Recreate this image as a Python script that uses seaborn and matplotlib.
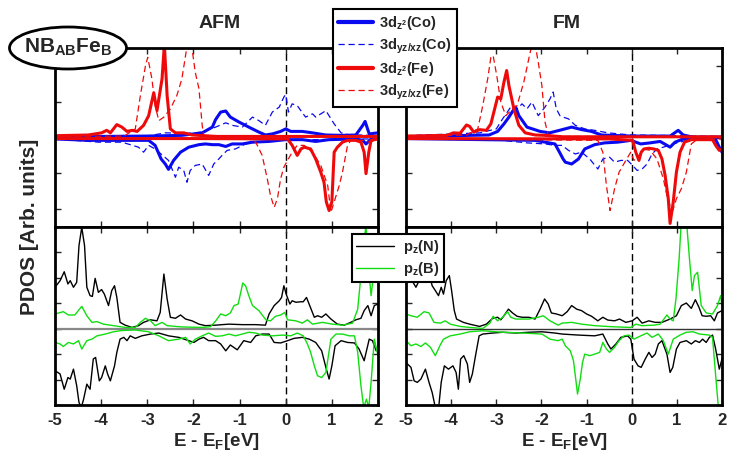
import matplotlib
matplotlib.use("Agg")
import matplotlib.pyplot as plt
import seaborn as sns
from matplotlib.lines import Line2D
from matplotlib.patches import Ellipse

# ---------------- data (E - E_F in eV, PDOS in arb. units) ----------------
# ---- AFM, 3d orbitals ----
afm_co_z2_up_e = [-5, -4, -3, -2.25, -1.81, -1.59, -1.52, -1.41, -1.3, -1.2, -1.01, -0.8, -0.58, -0.44, -0.29, -0.11, 0.0, 0.11, 0.36, 0.58, 0.87, 1.23, 1.52, 1.67, 1.72, 1.81, 2.0]
afm_co_z2_up_v = [0.02, 0.03, 0.04, 0.06, 0.13, 0.29, 0.5, 0.71, 0.74, 0.57, 0.43, 0.29, 0.15, 0.07, 0.1, 0.17, 0.24, 0.17, 0.17, 0.13, 0.07, 0.06, 0.07, 0.34, 0.45, 0.1, 0.13]
afm_co_z2_dn_e = [-5, -4.28, -2.97, -2.83, -2.7, -2.61, -2.54, -2.43, -2.28, -2.1, -1.88, -1.74, -1.59, -1.45, -1.3, -1.16, -0.94, -0.72, -0.36, 0, 0.36, 0.65, 0.94, 1.52, 1.67, 1.74, 1.85, 2.0]
afm_co_z2_dn_v = [-0.04, -0.08, -0.08, -0.22, -0.6, -0.74, -0.89, -0.64, -0.41, -0.27, -0.2, -0.18, -0.2, -0.2, -0.25, -0.18, -0.18, -0.13, -0.11, -0.06, -0.06, -0.11, -0.06, -0.04, -0.08, -0.18, -0.04, -0.04]
afm_co_yz_up_e = [-5, -3, -2.61, -2.1, -1.81, -1.52, -1.3, -1.16, -0.94, -0.72, -0.58, -0.44, -0.29, -0.14, -0.04, 0.0, 0.06, 0.14, 0.25, 0.43, 0.58, 0.65, 0.87, 1.05, 1.2, 1.38, 1.59, 1.81, 2.0]
afm_co_yz_up_v = [0.03, 0.04, 0.13, 0.12, 0.15, 0.29, 0.41, 0.34, 0.29, 0.57, 0.47, 0.34, 0.71, 0.85, 1.13, 1.2, 0.71, 0.94, 0.89, 0.57, 0.66, 0.57, 0.75, 0.38, 0.13, 0.07, 0.07, 0.06, 0.04]
afm_co_yz_dn_e = [-5, -4.57, -4.06, -3.55, -3.19, -3.08, -2.97, -2.83, -2.54, -2.39, -2.32, -2.21, -2.14, -2.07, -1.96, -1.81, -1.67, -1.56, -1.45, -1.38, -1.27, -1.09, -0.87, -0.65, -0.36, 0, 0.65, 1.38, 2.0]
afm_co_yz_dn_v = [-0.04, -0.08, -0.13, -0.13, -0.27, -0.41, -0.22, -0.32, -0.64, -1.11, -0.83, -0.92, -1.25, -0.92, -0.78, -0.74, -1.06, -0.74, -0.6, -0.5, -0.36, -0.32, -0.18, -0.13, -0.11, -0.07, -0.06, -0.04, -0.04]
afm_fe_z2_up_e = [-5, -4.28, -3.99, -3.88, -3.8, -3.66, -3.55, -3.44, -3.33, -3.22, -3.08, -2.97, -2.86, -2.79, -2.68, -2.63, -2.57, -2.5, -2.39, -2.21, -2.03, -1.5, 2.0]
afm_fe_z2_up_v = [0.05, 0.07, 0.13, 0.2, 0.13, 0.36, 0.29, 0.17, 0.2, 0.17, 0.34, 0.61, 1.25, 0.75, 1.64, 2.6, 1.17, 0.24, 0.13, 0.13, 0.07, 0.03, 0.03]
afm_fe_z2_dn_e = [-5, -2, 0.04, 0.14, 0.25, 0.33, 0.4, 0.54, 0.65, 0.76, 0.83, 0.88, 0.94, 1.0, 1.05, 1.12, 1.23, 1.34, 1.52, 1.63, 1.7, 1.74, 1.8, 1.85, 2.0]
afm_fe_z2_dn_v = [-0.03, -0.03, -0.04, -0.22, -0.5, -0.32, -0.27, -0.32, -0.6, -0.97, -1.25, -1.8, -2.04, -1.8, -0.41, -0.27, -0.13, -0.08, -0.08, -0.13, -0.41, -1.01, -0.41, -0.08, -0.04]
afm_fe_yz_up_e = [-5, -3.5, -3.26, -3.15, -3.04, -2.99, -2.9, -2.83, -2.75, -2.64, -2.5, -2.36, -2.25, -2.16, -2.1, -2.03, -1.96, -1.88, -1.81, -1.78, -1.5, 2.0]
afm_fe_yz_up_v = [0.03, 0.04, 0.24, 1.17, 2.0, 2.24, 1.64, 0.89, 0.47, 0.57, 0.8, 1.17, 1.64, 2.38, 2.7, 2.48, 1.82, 1.36, 0.34, 0.06, 0.03, 0.02]
afm_fe_yz_dn_e = [-5, -0.8, -0.65, -0.51, -0.4, -0.33, -0.25, -0.18, -0.11, -0.04, 0.04, 0.14, 0.25, 0.4, 0.58, 0.76, 0.91, 0.98, 1.05, 1.16, 1.23, 1.34, 1.41, 1.67, 1.81, 2.0]
afm_fe_yz_dn_v = [-0.03, -0.04, -0.13, -0.5, -1.15, -1.62, -1.95, -1.71, -1.15, -0.83, -0.64, -0.41, -0.22, -0.22, -0.41, -0.78, -1.34, -2.09, -1.8, -1.34, -0.97, -0.22, -0.08, -0.08, -0.13, -0.06]

# ---- FM, 3d orbitals ----
fm_co_z2_up_e = [-5, -3.59, -3.16, -2.97, -2.83, -2.72, -2.63, -2.57, -2.5, -2.32, -2.03, -1.82, -1.6, -1.33, -1.11, -0.89, -0.67, -0.46, 0, 0.85, 1.03, 1.14, 1.36, 2.0]
fm_co_z2_up_v = [0.02, 0.06, 0.07, 0.17, 0.38, 0.57, 0.75, 0.85, 0.61, 0.29, 0.17, 0.13, 0.2, 0.29, 0.22, 0.17, 0.07, 0.06, 0.04, 0.04, 0.2, 0.07, 0.01, 0.01]
fm_co_z2_dn_e = [-5, -2.14, -1.7, -1.6, -1.52, -1.47, -1.33, -1.18, -1.04, -0.82, -0.6, -0.31, -0.02, 0.2, 0.41, 0.63, 0.85, 0.96, 1.14, 1.86, 1.94, 2.0]
fm_co_z2_dn_v = [-0.03, -0.08, -0.18, -0.41, -0.6, -0.69, -0.74, -0.6, -0.32, -0.2, -0.15, -0.13, -0.08, -0.18, -0.15, -0.11, -0.27, -0.13, -0.04, -0.06, -0.27, -0.41]
fm_co_yz_up_e = [-5, -3.95, -3.37, -3.0, -2.86, -2.68, -2.57, -2.43, -2.32, -2.21, -2.07, -1.92, -1.81, -1.74, -1.67, -1.59, -1.52, -1.4, -1.25, -1.04, -0.82, -0.53, -0.02, 0.6, 1.36, 2.0]
fm_co_yz_up_v = [0.05, 0.1, 0.13, 0.24, 0.52, 0.85, 0.75, 0.94, 0.8, 0.99, 0.61, 0.85, 1.08, 1.27, 0.8, 0.61, 0.57, 0.52, 0.34, 0.24, 0.2, 0.13, 0.07, 0.06, 0.04, 0.03]
fm_co_yz_dn_e = [-5, -3.59, -2.86, -2.32, -1.92, -1.7, -1.54, -1.4, -1.25, -1.11, -0.93, -0.75, -0.64, -0.49, -0.38, -0.24, -0.09, 0.02, 0.12, 0.23, 0.34, 0.45, 0.56, 0.7, 0.92, 1.21, 2.0]
fm_co_yz_dn_v = [-0.04, -0.06, -0.08, -0.15, -0.18, -0.22, -0.22, -0.36, -0.46, -0.41, -0.6, -0.88, -0.6, -0.55, -0.69, -0.64, -0.64, -0.78, -0.92, -0.88, -0.74, -0.46, -0.32, -0.27, -0.18, -0.08, -0.06]
fm_fe_z2_up_e = [-5, -4.09, -3.95, -3.8, -3.66, -3.59, -3.5, -3.37, -3.22, -3.12, -2.97, -2.9, -2.83, -2.77, -2.72, -2.61, -2.5, -2.36, -2.14, -1.92, -1.52, 2.0]
fm_fe_z2_up_v = [0.04, 0.06, 0.13, 0.12, 0.35, 0.31, 0.15, 0.22, 0.2, 0.38, 1.13, 1.08, 1.55, 1.87, 1.45, 0.8, 0.34, 0.13, 0.07, 0.06, 0.02, 0.02]
fm_fe_z2_dn_e = [-5, -0.5, 0.02, 0.09, 0.16, 0.21, 0.27, 0.38, 0.49, 0.59, 0.67, 0.74, 0.81, 0.85, 0.92, 0.99, 1.07, 1.17, 1.32, 1.79, 1.86, 1.94, 2.0]
fm_fe_z2_dn_v = [-0.03, -0.04, -0.08, -0.41, -0.64, -0.41, -0.32, -0.3, -0.32, -0.36, -0.6, -1.06, -1.71, -2.4, -1.8, -0.97, -0.41, -0.13, -0.06, -0.06, -0.22, -0.36, -0.32]
fm_fe_yz_up_e = [-5, -3.66, -3.41, -3.3, -3.19, -3.12, -3.07, -2.99, -2.9, -2.79, -2.68, -2.54, -2.39, -2.28, -2.21, -2.14, -2.07, -1.99, -1.92, -1.85, -1.5, 2.0]
fm_fe_yz_up_v = [0.03, 0.07, 0.24, 0.89, 1.64, 2.24, 2.29, 1.73, 0.99, 0.61, 0.75, 0.89, 1.55, 2.2, 2.6, 2.6, 2.1, 1.45, 0.43, 0.07, 0.03, 0.02]
fm_fe_yz_dn_e = [-5, -0.75, -0.64, -0.56, -0.48, -0.38, -0.28, -0.13, -0.02, 0.05, 0.16, 0.27, 0.41, 0.56, 0.7, 0.81, 0.91, 0.99, 1.1, 1.21, 1.32, 1.43, 2.0]
fm_fe_yz_dn_v = [-0.03, -0.08, -0.41, -1.34, -2.04, -1.43, -0.97, -0.64, -0.41, -0.64, -0.5, -0.32, -0.36, -0.6, -1.15, -1.8, -2.04, -1.71, -1.43, -0.97, -0.18, -0.07, -0.04]

# ---- AFM, p_z orbitals ----
afm_n_up_e = [-5, -4.89, -4.8, -4.72, -4.67, -4.6, -4.53, -4.48, -4.42, -4.36, -4.31, -4.24, -4.19, -4.13, -4.06, -3.99, -3.93, -3.84, -3.77, -3.71, -3.66, -3.59, -3.48, -3.33, -3.19, -3.08, -2.93, -2.79, -2.72, -2.64, -2.57, -2.5, -2.39, -2.28, -2.17, -2.03, -1.88, -1.74, -1.52, -1.23, -0.94, -0.65, -0.44, -0.36, -0.25, -0.14, -0.09, -0.04, 0.01, 0.09, 0.14, 0.22, 0.33, 0.38, 0.45, 0.52, 0.62, 0.69, 0.78, 0.87, 0.98, 1.12, 1.27, 1.41, 1.52, 1.63, 1.7, 1.78, 1.85, 1.92, 2.0]
afm_n_up_v = [1.63, 1.89, 2.24, 1.76, 1.89, 1.63, 1.82, 3.27, 3.99, 3.27, 1.63, 1.3, 1.27, 1.98, 1.43, 1.54, 1.36, 0.91, 1.5, 1.69, 1.23, 0.25, 0.14, 0.05, 0.12, 0.25, 0.35, 0.31, 0.64, 2.15, 1.17, 0.45, 0.41, 0.54, 0.38, 0.31, 0.18, 0.12, 0.14, 0.18, 0.16, 0.16, 0.14, 0.58, 0.91, 1.1, 1.23, 1.69, 1.36, 0.97, 1.1, 1.04, 1.06, 1.06, 1.23, 0.91, 0.45, 0.51, 0.45, 0.58, 0.38, 0.18, 0.14, 0.25, 0.35, 0.41, 0.71, 0.91, 0.51, 0.91, 0.97]
afm_n_dn_e = [-5, -4.89, -4.8, -4.72, -4.67, -4.6, -4.53, -4.48, -4.43, -4.38, -4.31, -4.24, -4.17, -4.12, -4.04, -3.99, -3.91, -3.86, -3.8, -3.71, -3.66, -3.59, -3.51, -3.44, -3.37, -3.26, -3.12, -2.93, -2.75, -2.54, -2.32, -2.1, -1.99, -1.88, -1.78, -1.67, -1.52, -1.41, -1.3, -1.2, -1.05, -0.91, -0.76, -0.65, -0.51, -0.36, -0.25, -0.11, 0.04, 0.18, 0.36, 0.51, 0.65, 0.78, 0.87, 0.94, 1.0, 1.07, 1.2, 1.34, 1.49, 1.59, 1.7, 1.81, 1.88, 1.96, 2.0]
afm_n_dn_v = [-1.65, -1.78, -2.38, -1.92, -1.98, -1.59, -2.24, -2.9, -3.1, -2.77, -2.18, -2.38, -1.19, -1.13, -2.05, -1.92, -1.46, -1.78, -2.05, -1.46, -0.93, -0.41, -0.34, -0.47, -0.28, -0.38, -0.28, -0.21, -0.17, -0.28, -0.34, -0.47, -0.54, -0.41, -0.34, -0.47, -0.47, -0.6, -0.87, -0.64, -0.83, -0.47, -0.54, -0.28, -0.21, -0.21, -0.54, -0.56, -0.47, -0.38, -0.34, -0.41, -0.54, -0.87, -1.52, -1.98, -1.46, -0.67, -0.47, -0.54, -0.56, -0.8, -1.26, -0.41, -0.47, -0.87, -0.67]
afm_b_up_e = [-5, -4.82, -4.71, -4.57, -4.42, -4.31, -4.2, -4.09, -3.95, -3.73, -3.48, -3.26, -3.15, -3.04, -2.93, -2.83, -2.68, -2.57, -2.25, -1.81, -1.63, -1.52, -1.41, -1.3, -1.2, -1.12, -1.03, -0.93, -0.87, -0.8, -0.72, -0.58, -0.43, -0.33, -0.22, -0.11, -0.02, 0.04, 0.22, 0.36, 0.47, 0.58, 0.8, 1.01, 1.23, 1.45, 1.56, 1.63, 1.68, 1.74, 1.81, 1.85, 1.92, 1.97, 2.0]
afm_b_up_v = [0.58, 0.67, 0.54, 0.54, 0.88, 0.51, 0.25, 0.28, 0.18, 0.12, 0.05, 0.05, 0.25, 0.41, 0.31, 0.12, 0.25, 0.12, 0.07, 0.05, 0.08, 0.3, 0.58, 0.51, 0.62, 0.91, 0.97, 1.8, 1.69, 1.3, 0.91, 0.71, 0.35, 0.31, 0.49, 0.54, 0.64, 0.35, 0.31, 0.22, 0.35, 0.18, 0.25, 0.18, 0.14, 0.22, 0.77, 2.09, 3.27, 4.05, 2.09, 1.3, 2.35, 2.87, 2.9]
afm_b_dn_e = [-5, -4.89, -4.82, -4.71, -4.6, -4.49, -4.42, -4.31, -4.2, -4.09, -3.91, -3.73, -3.55, -3.26, -2.97, -2.75, -2.54, -2.32, -2.17, -2.07, -1.96, -1.81, -1.67, -1.52, -1.38, -1.23, -1.09, -0.94, -0.8, -0.65, -0.51, -0.29, -0.07, 0.11, 0.25, 0.38, 0.47, 0.54, 0.62, 0.69, 0.78, 0.87, 0.98, 1.09, 1.23, 1.38, 1.49, 1.56, 1.63, 1.69, 1.75, 1.8, 1.85, 1.92, 2.0]
afm_b_dn_v = [-0.54, -0.6, -0.7, -0.54, -0.6, -0.47, -0.8, -0.47, -0.41, -0.28, -0.21, -0.12, -0.07, -0.05, -0.12, -0.28, -0.47, -0.41, -0.34, -0.6, -0.41, -0.28, -0.17, -0.3, -0.28, -0.21, -0.28, -0.21, -0.14, -0.17, -0.25, -0.28, -0.25, -0.28, -0.17, -0.28, -0.6, -0.93, -1.46, -1.85, -1.92, -1.72, -0.41, -0.21, -0.21, -0.28, -0.28, -0.93, -2.24, -3.1, -2.77, -3.1, -2.11, -0.41, -1.06]

# ---- FM, p_z orbitals ----
fm_n_up_e = [-5, -4.89, -4.78, -4.71, -4.6, -4.49, -4.42, -4.35, -4.28, -4.22, -4.17, -4.11, -4.04, -3.99, -3.93, -3.88, -3.73, -3.59, -3.37, -3.22, -3.08, -2.97, -2.9, -2.83, -2.73, -2.64, -2.54, -2.43, -2.28, -2.14, -2.03, -1.93, -1.85, -1.78, -1.67, -1.54, -1.43, -1.33, -1.22, -1.11, -1.0, -0.89, -0.75, -0.64, -0.53, -0.38, -0.27, -0.13, 0.01, 0.12, 0.23, 0.38, 0.52, 0.67, 0.85, 0.99, 1.1, 1.21, 1.32, 1.41, 1.49, 1.56, 1.65, 1.75, 1.83, 1.9, 2.0]
fm_n_up_v = [2.02, 1.96, 1.63, 1.89, 2.09, 2.15, 1.69, 1.5, 1.3, 1.63, 1.36, 1.89, 2.09, 1.5, 0.71, 0.38, 0.25, 0.18, 0.09, 0.18, 0.41, 0.45, 0.35, 0.51, 0.77, 0.62, 0.49, 0.45, 0.45, 0.38, 0.77, 1.17, 0.97, 0.62, 0.58, 0.51, 0.67, 0.91, 0.77, 0.71, 0.58, 0.49, 0.31, 0.45, 0.34, 0.31, 0.38, 0.25, 0.31, 0.45, 0.22, 0.31, 0.25, 0.25, 0.38, 0.51, 0.91, 1.01, 0.8, 1.14, 0.84, 0.51, 0.49, 0.51, 0.31, 0.62, 0.71]
fm_n_dn_e = [-5, -4.89, -4.82, -4.75, -4.67, -4.57, -4.49, -4.42, -4.35, -4.28, -4.22, -4.15, -4.06, -3.96, -3.89, -3.84, -3.79, -3.72, -3.64, -3.59, -3.53, -3.46, -3.38, -3.3, -3.08, -2.86, -2.57, -2.28, -1.99, -1.7, -1.54, -1.18, -0.82, -0.64, -0.53, -0.46, -0.35, -0.24, -0.09, -0.02, 0.05, 0.14, 0.21, 0.3, 0.38, 0.45, 0.52, 0.59, 0.67, 0.78, 0.85, 0.91, 0.99, 1.07, 1.21, 1.32, 1.41, 1.5, 1.57, 1.65, 1.72, 1.79, 1.86, 1.94, 2.0]
fm_n_dn_v = [-1.33, -1.52, -2.05, -2.11, -1.98, -1.59, -2.11, -2.51, -3.1, -3.16, -2.11, -1.46, -1.59, -1.46, -1.72, -2.38, -1.19, -1.06, -1.39, -2.11, -1.78, -1.06, -0.28, -0.21, -0.17, -0.14, -0.17, -0.14, -0.12, -0.17, -0.21, -0.25, -0.28, -0.21, -0.6, -0.8, -0.6, -0.34, -0.28, -0.41, -1.19, -1.46, -1.52, -1.19, -0.93, -1.13, -1.0, -0.6, -0.47, -1.0, -1.72, -1.52, -0.8, -0.54, -0.47, -0.6, -0.47, -0.54, -0.41, -0.54, -0.34, -0.25, -0.8, -1.59, -1.19]
fm_b_up_e = [-5, -4.89, -4.75, -4.6, -4.49, -4.38, -4.24, -4.13, -4.02, -3.8, -3.59, -3.3, -3.14, -3.07, -2.97, -2.86, -2.75, -2.68, -2.57, -2.28, -2.07, -1.96, -1.81, -1.63, -1.54, -1.33, -1.11, -0.82, -0.46, -0.02, 0.09, 0.23, 0.49, 0.63, 0.78, 0.85, 0.92, 0.98, 1.05, 1.1, 1.21, 1.28, 1.34, 1.39, 1.46, 1.54, 1.65, 1.79, 1.9, 1.97, 2.0]
fm_b_up_v = [0.58, 0.51, 0.45, 0.67, 0.62, 0.25, 0.22, 0.31, 0.18, 0.09, 0.05, 0.01, 0.22, 0.49, 0.31, 0.45, 0.67, 0.45, 0.38, 0.38, 0.45, 0.51, 0.31, 0.14, 0.22, 0.25, 0.18, 0.12, 0.08, 0.05, 0.18, 0.12, 0.14, 0.18, 0.54, 0.38, 0.31, 1.17, 2.74, 4.3, 4.3, 2.74, 1.5, 2.09, 2.22, 0.91, 0.62, 0.58, 0.91, 1.3, 0.9]
fm_b_dn_e = [-5, -4.89, -4.78, -4.67, -4.57, -4.46, -4.35, -4.25, -4.17, -4.02, -3.8, -3.59, -3.3, -2.86, -2.4, -1.99, -1.81, -1.63, -1.54, -1.47, -1.36, -1.29, -1.24, -1.2, -1.14, -1.09, -1.04, -0.93, -0.82, -0.71, -0.64, -0.56, -0.49, -0.38, -0.28, -0.17, -0.06, 0.05, 0.2, 0.34, 0.45, 0.59, 0.7, 0.81, 0.92, 1.07, 1.21, 1.36, 1.5, 1.72, 1.79, 1.86, 1.92, 2.0]
fm_b_dn_v = [-0.47, -0.67, -0.6, -0.7, -0.56, -0.73, -1.06, -0.67, -0.41, -0.28, -0.21, -0.12, -0.08, -0.14, -0.17, -0.21, -0.41, -0.47, -0.41, -0.67, -0.87, -1.26, -1.98, -2.57, -1.98, -1.33, -1.0, -1.06, -1.0, -0.93, -0.54, -0.8, -0.93, -0.73, -0.47, -0.28, -0.25, -0.41, -0.28, -0.17, -0.34, -0.21, -0.47, -1.0, -0.41, -0.25, -0.14, -0.12, -0.21, -0.25, -0.34, -1.85, -3.1, -3.5]

x_ticks = [-5, -4, -3, -2, -1, 0, 1, 2]
top_labels = [r"3d$_{z^{2}}$(Co)", r"3d$_{yz/xz}$(Co)", r"3d$_{z^{2}}$(Fe)", r"3d$_{yz/xz}$(Fe)"]
bot_labels = [r"p$_{z}$(N)", r"p$_{z}$(B)"]

# ---------------- style ----------------
sns.set_style("ticks")
plt.rcParams["font.family"] = ["Liberation Sans", "DejaVu Sans"]
plt.rcParams["font.weight"] = "bold"
plt.rcParams["mathtext.fontset"] = "custom"
plt.rcParams["mathtext.rm"] = "Liberation Sans:bold"
plt.rcParams["mathtext.bf"] = "Liberation Sans:bold"
plt.rcParams["mathtext.it"] = "Liberation Sans:bold"
plt.rcParams["mathtext.default"] = "bf"

BLUE = "#0a0af0"
RED = "#ee0a0a"
GREEN = "#11dd11"
DASH = (0, (5, 3))

fig = plt.figure(figsize=(7.29, 4.55), dpi=100)
W, H = 729.0, 455.0
def box(x0, y0, x1, y1):
    return [x0 / W, 1 - y1 / H, (x1 - x0) / W, (y1 - y0) / H]

ax_afm_top = fig.add_axes(box(55, 48, 378, 227))
ax_afm_bot = fig.add_axes(box(55, 227, 378, 405))
ax_fm_top = fig.add_axes(box(406, 48, 722, 227))
ax_fm_bot = fig.add_axes(box(406, 227, 722, 405))

def line(ax, e, v, color, lw, ls="-"):
    sns.lineplot(x=e, y=v, ax=ax, color=color, linewidth=lw, linestyle=ls,
                 sort=False, estimator=None, legend=False)

def draw_top(ax, co_yz, co_z2, fe_yz, fe_z2):
    for e, v in co_yz:
        line(ax, e, v, BLUE, 0.9, DASH)
    for e, v in co_z2:
        line(ax, e, v, BLUE, 2.2)
    for e, v in fe_yz:
        line(ax, e, v, RED, 0.9, DASH)
    for e, v in fe_z2:
        line(ax, e, v, RED, 2.2)
    ax.set_ylim(-2.5, 2.5)
    ax.set_yticks([-2, -1, 0, 1, 2])

def draw_bot(ax, n, b, zc, zlw):
    ax.axhline(0, color=zc, lw=zlw, zorder=1)
    for e, v in n:
        line(ax, e, v, "black", 1.0)
    for e, v in b:
        line(ax, e, v, GREEN, 1.0)
    ax.set_ylim(-3, 4)
    ax.set_yticks([-3, -2, -1, 0, 1, 2, 3])

draw_top(ax_afm_top,
         [(afm_co_yz_up_e, afm_co_yz_up_v), (afm_co_yz_dn_e, afm_co_yz_dn_v)],
         [(afm_co_z2_up_e, afm_co_z2_up_v), (afm_co_z2_dn_e, afm_co_z2_dn_v)],
         [(afm_fe_yz_up_e, afm_fe_yz_up_v), (afm_fe_yz_dn_e, afm_fe_yz_dn_v)],
         [(afm_fe_z2_up_e, afm_fe_z2_up_v), (afm_fe_z2_dn_e, afm_fe_z2_dn_v)])
draw_top(ax_fm_top,
         [(fm_co_yz_up_e, fm_co_yz_up_v), (fm_co_yz_dn_e, fm_co_yz_dn_v)],
         [(fm_co_z2_up_e, fm_co_z2_up_v), (fm_co_z2_dn_e, fm_co_z2_dn_v)],
         [(fm_fe_yz_up_e, fm_fe_yz_up_v), (fm_fe_yz_dn_e, fm_fe_yz_dn_v)],
         [(fm_fe_z2_up_e, fm_fe_z2_up_v), (fm_fe_z2_dn_e, fm_fe_z2_dn_v)])
draw_bot(ax_afm_bot,
         [(afm_n_up_e, afm_n_up_v), (afm_n_dn_e, afm_n_dn_v)],
         [(afm_b_up_e, afm_b_up_v), (afm_b_dn_e, afm_b_dn_v)], "#888888", 1.6)
draw_bot(ax_fm_bot,
         [(fm_n_up_e, fm_n_up_v), (fm_n_dn_e, fm_n_dn_v)],
         [(fm_b_up_e, fm_b_up_v), (fm_b_dn_e, fm_b_dn_v)], "#333333", 1.0)

for ax in (ax_afm_top, ax_afm_bot, ax_fm_top, ax_fm_bot):
    ax.set_xlim(-5, 2)
    ax.set_xticks(x_ticks)
    ax.axvline(0, color="black", lw=1.0, ls=DASH, zorder=0.5)
    ax.tick_params(direction="in", top=True, right=True, length=4, width=1,
                   labelleft=False)
    ax.set_ylabel("")
    ax.set_xlabel("")
    for s in ax.spines.values():
        s.set_linewidth(2.0)
        s.set_color("black")
for ax in (ax_afm_top, ax_fm_top):
    ax.tick_params(labelbottom=False)
for ax in (ax_afm_bot, ax_fm_bot):
    ax.set_xticklabels([f"{t}" for t in x_ticks], fontsize=12, fontweight="bold")
    ax.tick_params(axis="x", pad=6)
    ax.set_xlabel(r"E - E$_{F}$[eV]", fontsize=13.5, fontweight="bold", labelpad=2)

# titles and axis label
fig.text(220 / W, 1 - 23 / H, "AFM", fontsize=14, fontweight="bold", ha="center", va="center")
fig.text(567 / W, 1 - 23 / H, "FM", fontsize=14, fontweight="bold", ha="center", va="center")
fig.text(30 / W, 1 - 227 / H, "PDOS [Arb. units]", fontsize=15, fontweight="bold",
         rotation=90, ha="center", va="center")

# system label in ellipse
ell = Ellipse((68 / W, 1 - 48 / H), 117 / W, 42 / H, transform=fig.transFigure,
              facecolor="white", edgecolor="black", lw=2, zorder=10)
fig.add_artist(ell)
fig.text(68 / W, 1 - 47 / H, r"NB$_{AB}$Fe$_{B}$", fontsize=15, fontweight="bold",
         ha="center", va="center", zorder=11)

# legends
top_handles = [Line2D([], [], color=BLUE, lw=3.0),
               Line2D([], [], color=BLUE, lw=0.9, ls=DASH),
               Line2D([], [], color=RED, lw=3.0),
               Line2D([], [], color=RED, lw=0.9, ls=DASH)]
leg1 = fig.legend(top_handles, top_labels, loc="upper left",
                  bbox_to_anchor=(333 / W, 1 - 9 / H), fontsize=10.5,
                  frameon=True, fancybox=False, framealpha=1, edgecolor="black",
                  handlelength=2.4, handletextpad=0.4, labelspacing=0.3,
                  borderpad=0.35, borderaxespad=0)
leg1.get_frame().set_linewidth(1.5)
bot_handles = [Line2D([], [], color="black", lw=1.0),
               Line2D([], [], color=GREEN, lw=1.0)]
leg2 = fig.legend(bot_handles, bot_labels, loc="upper left",
                  bbox_to_anchor=(352 / W, 1 - 234 / H), fontsize=10.5,
                  frameon=True, fancybox=False, framealpha=1, edgecolor="black",
                  handlelength=2.6, handletextpad=0.6, labelspacing=0.25,
                  borderpad=0.3, borderaxespad=0)
leg2.get_frame().set_linewidth(1.5)

fig.savefig("out.png", dpi=100)
